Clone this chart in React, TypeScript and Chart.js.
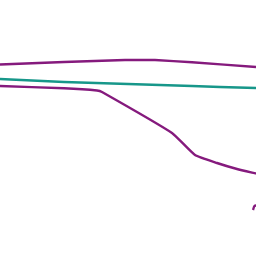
import React, { useEffect, useRef } from "react";
import { Chart, registerables } from "chart.js";

Chart.register(...registerables);

const upperX = [0, 64, 125, 155, 192, 256];
const upperY = [191.5, 194, 196, 196, 193.7, 189];

const tealX = [0, 64, 128, 192, 220, 256];
const tealY = [177, 174, 172, 170, 169, 168];

const lowerX = [0, 64, 97, 102, 172, 195, 217, 237, 256];
const lowerY = [170, 167.7, 165.5, 164, 123, 101, 93, 87, 82.5];

const tailX = [253, 254.5, 260];
const tailY = [46, 50, 51];

const PURPLE = "#851a7d";
const TEAL = "#17978a";

function pts(xs: number[], ys: number[]) {
  return xs.map((x, i) => ({ x, y: ys[i] }));
}

export default function App() {
  const ref = useRef<HTMLCanvasElement | null>(null);
  useEffect(() => {
    document.body.style.margin = "0";
    if (!ref.current) return;
    const chart = new Chart(ref.current, {
      type: "line",
      data: {
        datasets: [
          { data: pts(upperX, upperY), borderColor: PURPLE, borderWidth: 2.4, pointRadius: 0, tension: 0.05 },
          { data: pts(tealX, tealY), borderColor: TEAL, borderWidth: 2.6, pointRadius: 0, tension: 0.1 },
          { data: pts(lowerX, lowerY), borderColor: PURPLE, borderWidth: 2.4, pointRadius: 0, tension: 0.15 },
          { data: pts(tailX, tailY), borderColor: PURPLE, borderWidth: 2.4, pointRadius: 0, tension: 0.2 },
        ],
      },
      options: {
        animation: false,
        responsive: false,
        layout: { padding: 0 },
        plugins: { legend: { display: false }, tooltip: { enabled: false } },
        scales: {
          x: { type: "linear", min: 0, max: 256, display: false },
          y: { type: "linear", min: 0, max: 256, display: false },
        },
      },
    });
    return () => chart.destroy();
  }, []);
  return <canvas ref={ref} width={256} height={256} style={{ display: "block" }} />;
}
